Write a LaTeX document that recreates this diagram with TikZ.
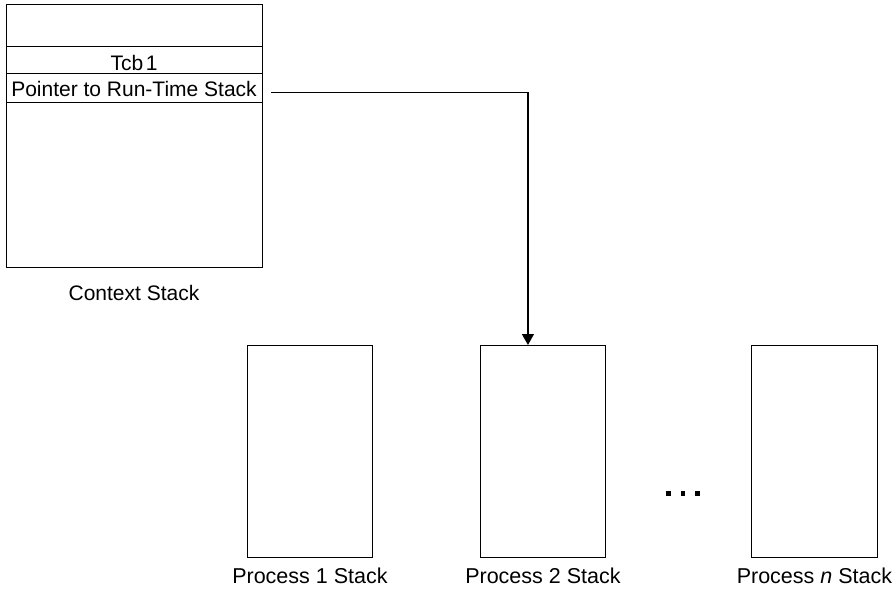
\documentclass[tikz,border=0pt]{standalone}
\usepackage{fontspec}
\setmainfont{Liberation Sans}
\usetikzlibrary{arrows.meta}
\begin{document}
\begin{tikzpicture}[x=1pt,y=-1pt,
  box/.style={draw, line width=1.4pt, inner sep=0pt, anchor=north west},
  lbl/.style={font=\fontsize{21}{25}\selectfont, inner sep=0pt, anchor=base},
  plbl/.style={lbl, font=\fontsize{21.5}{25}\selectfont},
  conn/.style={line width=1.4pt, -{Triangle[length=11pt,width=12pt]}},
  dot/.style={fill=black}]
\useasboundingbox (0,0) rectangle (893,589);
% context stack
\node[box, minimum width=256pt, minimum height=263pt] (ctx) at (6,4) {};
\node[box, minimum width=256pt, minimum height=27pt] (tcb) at (6,46) {};
\node[box, minimum width=256pt, minimum height=29pt] (ptr) at (6,73) {};
\node[lbl] (tcbtext) at (134,70) {Tcb\kern0.12em 1};
\node[lbl] (ptrtext) at (134,96.5) {Pointer to Run-Time Stack};
\node[lbl] (ctxlbl) at (134,300) {Context Stack};
% process stacks
\node[box, minimum width=125.5pt, minimum height=212pt] (p1) at (246.5,345) {};
\node[box, minimum width=125.5pt, minimum height=212pt] (p2) at (479.5,345) {};
\node[box, minimum width=125.5pt, minimum height=212pt] (pn) at (751,345) {};
\node[plbl] (p1lbl) at (p1.south |- 0,583) {Process 1 Stack};
\node[plbl] (p2lbl) at (p2.south |- 0,583) {Process 2 Stack};
\node[plbl] (pnlbl) at (pn.south |- 0,583) {Process \textit{n} Stack};
% dots
\fill[dot] (666,491) rectangle ++(4.5,4.5);
\fill[dot] (680.5,491) rectangle ++(4.5,4.5);
\fill[dot] (695,491) rectangle ++(4.5,4.5);
% connector
\coordinate (ptrout) at (271,92.5);
\coordinate (p2in) at ([xshift=-15pt]p2.north);
\draw[conn] (ptrout) -| (p2in);
\end{tikzpicture}
\end{document}
